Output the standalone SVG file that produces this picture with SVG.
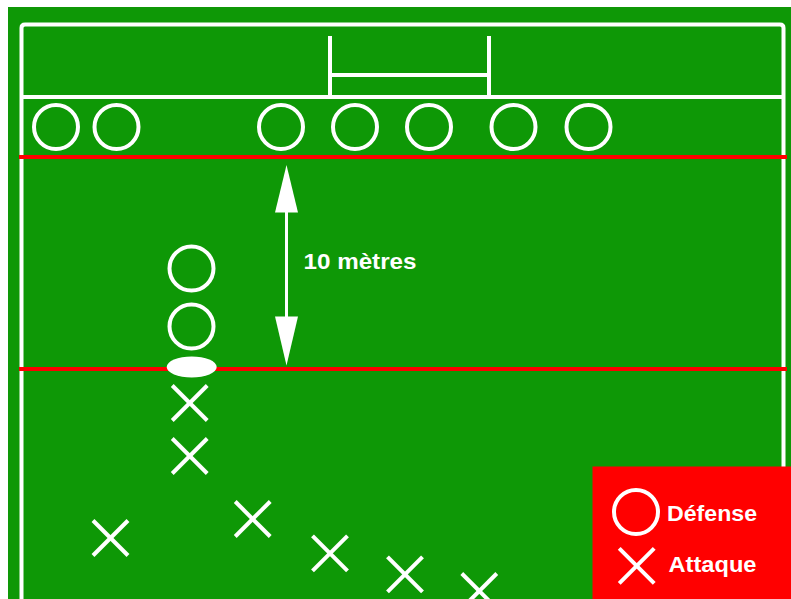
<svg xmlns="http://www.w3.org/2000/svg" width="791" height="599" viewBox="0 0 791 599">
  <style>
    .line { stroke: #ffffff; stroke-width: 4; fill: none; }
    .red { stroke: #ff0000; stroke-width: 4; }
    .def { stroke: #ffffff; stroke-width: 4; fill: none; }
    .att { stroke: #ffffff; stroke-width: 4; fill: none; }
    .lbl { font-family: "Liberation Sans", Arial, sans-serif; font-weight: bold; font-size: 22px; fill: #ffffff; }
  </style>
  <defs>
    <g id="cross">
      <line class="att" x1="-17.5" y1="-17.5" x2="17.5" y2="17.5"/>
      <line class="att" x1="-17.5" y1="17.5" x2="17.5" y2="-17.5"/>
    </g>
  </defs>

  <!-- page and pitch -->
  <rect x="0" y="0" width="791" height="599" fill="#ffffff"/>
  <rect x="8" y="7" width="783" height="592" fill="#0e9806"/>

  <g id="pitch">
    <path class="line" d="M21.5,610 V28 Q21.5,24.5 25,24.5 H780 Q783.5,24.5 783.5,28 V610"/>
    <line class="line" x1="21.5" y1="97" x2="783.5" y2="97"/>
    <!-- posts -->
    <line class="line" x1="330" y1="36" x2="330" y2="97"/>
    <line class="line" x1="489" y1="36" x2="489" y2="97"/>
    <line class="line" x1="330" y1="75" x2="489" y2="75"/>
    <!-- 10 m lines -->
    <line class="red" x1="19" y1="157" x2="787" y2="157"/>
    <line class="red" x1="19" y1="369" x2="787" y2="369"/>
  </g>

  <!-- defensive line -->
  <g id="defense-line">
    <circle class="def" cx="56" cy="127" r="22"/>
    <circle class="def" cx="116.5" cy="127" r="22"/>
    <circle class="def" cx="281" cy="127" r="22"/>
    <circle class="def" cx="355" cy="127" r="22"/>
    <circle class="def" cx="429" cy="127" r="22"/>
    <circle class="def" cx="513.5" cy="127" r="22"/>
    <circle class="def" cx="588.5" cy="127" r="22"/>
  </g>

  <!-- ruck defenders and ball -->
  <g id="ruck">
    <circle class="def" cx="191.5" cy="268.5" r="22"/>
    <circle class="def" cx="191.5" cy="326.5" r="22"/>
    <ellipse cx="191.7" cy="367" rx="25" ry="10.5" fill="#ffffff"/>
  </g>

  <!-- attackers -->
  <g id="attack">
    <use href="#cross" x="189.7" y="403"/>
    <use href="#cross" x="189.7" y="456"/>
    <use href="#cross" x="110.5" y="538"/>
    <use href="#cross" x="252.7" y="519"/>
    <use href="#cross" x="330" y="553.3"/>
    <use href="#cross" x="405" y="574.3"/>
    <use href="#cross" x="479.3" y="591"/>
  </g>

  <!-- distance indicator -->
  <g id="connectors">
    <line x1="286.5" y1="205" x2="286.5" y2="325" stroke="#ffffff" stroke-width="3"/>
    <polygon points="286.5,165 275,212.5 298,212.5" fill="#ffffff"/>
    <polygon points="286.5,365.5 275,316.5 298,316.5" fill="#ffffff"/>
  </g>
  <g id="distance-label">
    <text class="lbl" x="303.5" y="268.5" textLength="113" lengthAdjust="spacingAndGlyphs">10 mètres</text>
  </g>

  <!-- key -->
  <g id="legend">
    <rect x="592.5" y="466.5" width="198.5" height="132.5" fill="#ff0000"/>
    <circle class="def" cx="636" cy="512" r="22"/>
    <use href="#cross" x="636.7" y="565.8"/>
    <text class="lbl" x="667" y="520.5" textLength="90" lengthAdjust="spacingAndGlyphs">Défense</text>
    <text class="lbl" x="668.5" y="571.5" textLength="88" lengthAdjust="spacingAndGlyphs">Attaque</text>
  </g>
</svg>
